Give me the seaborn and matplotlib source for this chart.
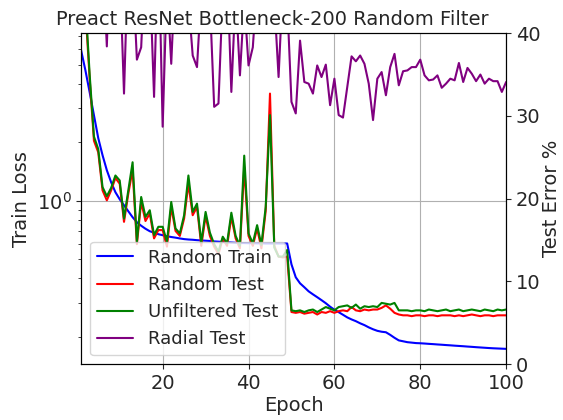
import numpy as np
import pandas as pd
import seaborn as sns
import matplotlib
matplotlib.use("Agg")
import matplotlib.pyplot as plt
from matplotlib.ticker import NullFormatter

epochs = list(range(1, 101))

# train loss (left, log axis)
random_train = [
    5.94, 4.69, 3.61, 2.75, 2.10, 1.715, 1.436, 1.246, 1.107, 1.019,
    0.949, 0.884, 0.824, 0.776, 0.745, 0.719, 0.698, 0.686, 0.674, 0.666,
    0.658, 0.652, 0.647, 0.641, 0.636, 0.633, 0.631, 0.628, 0.626, 0.624,
    0.622, 0.619, 0.617, 0.615, 0.613, 0.611, 0.609, 0.607, 0.607, 0.606,
    0.606, 0.605, 0.605, 0.604, 0.604, 0.604, 0.604, 0.604, 0.604, 0.472,
    0.405, 0.377, 0.360, 0.343, 0.331, 0.320, 0.309, 0.298, 0.286, 0.276,
    0.268, 0.260, 0.252, 0.246, 0.241, 0.235, 0.230, 0.224, 0.219, 0.215,
    0.2127, 0.2114, 0.205, 0.198, 0.192, 0.190, 0.188, 0.187, 0.186, 0.1856,
    0.1850, 0.1843, 0.1837, 0.1830, 0.1824, 0.1817, 0.1811, 0.1804, 0.1798, 0.1792,
    0.1785, 0.1779, 0.1772, 0.1766, 0.1760, 0.1754, 0.1749, 0.1745, 0.1741, 0.1737,
]

# test error % (right axis)
random_test = [
    57, 43, 34.5, 27, 25.6, 21, 19.8, 21, 22.5, 21.8,
    17.2, 20.6, 23.5, 14.5, 19.6, 17.3, 18.2, 15.2, 16.2, 16.2,
    14.2, 19, 16.1, 15.5, 17.6, 21.8, 18, 19, 14.3, 17.9,
    15.5, 14.2, 13.3, 15.2, 14.3, 17.8, 15.2, 14, 23.8, 15.5,
    14.3, 16.4, 14, 18.5, 32.7, 14.3, 13, 12.9, 13, 6.3,
    6.2, 6.3, 6.1, 6.2, 6.3, 6.0, 6.3, 6.2, 6.4, 6.2,
    6.4, 6.5, 6.4, 6.9, 6.5, 6.4, 6.6, 6.5, 6.6, 6.6,
    6.8, 7.1, 6.7, 6.2, 6.0, 5.9, 5.9, 5.8, 5.9, 5.9,
    5.8, 5.9, 5.9, 5.8, 5.9, 5.9, 5.9, 5.8, 5.9, 5.8,
    5.9, 6.0, 5.9, 5.8, 5.9, 5.9, 5.8, 5.9, 5.9, 5.9,
]

unfiltered_test = [
    58, 44, 35, 27.5, 26, 21.4, 20.3, 21.3, 22.8, 22.2,
    17.6, 21, 24.4, 14.8, 20.2, 17.8, 18.6, 15.6, 16.6, 16.6,
    14.8, 19.6, 16.4, 15.8, 18, 22.8, 18.4, 19.4, 14.7, 18.4,
    15.9, 14.5, 13.6, 15.4, 14.6, 18.3, 15.5, 14.3, 25.2, 15.8,
    14.6, 16.8, 14.4, 19, 30.1, 14.1, 13, 13, 13.8, 6.5,
    6.4, 6.5, 6.3, 6.5, 6.6, 6.3, 6.6, 6.9, 6.7, 6.5,
    6.9, 7.0, 7.1, 6.8, 7.2, 6.7, 7.0, 6.9, 7.0, 6.9,
    7.4, 7.3, 7.2, 7.4, 6.5, 6.5, 6.5, 6.4, 6.5, 6.5,
    6.4, 6.6, 6.5, 6.4, 6.5, 6.6, 6.4, 6.5, 6.6, 6.4,
    6.5, 6.6, 6.5, 6.4, 6.6, 6.5, 6.4, 6.6, 6.5, 6.6,
]

radial_test = [
    65, 60, 58, 55, 52, 50, 38.4, 55, 52, 48,
    32.7, 50, 48, 36.8, 38.3, 50, 47, 32.3, 52, 28.7,
    46, 36.3, 48, 50, 46, 44, 37.3, 35.9, 45, 48,
    44, 31.1, 31.5, 45, 48, 32.9, 45, 34.9, 44, 36.1,
    38.3, 46, 50, 48, 45, 44, 34.7, 46, 44, 31.7,
    30.3, 39.1, 34.1, 33.9, 32.7, 36.1, 34.7, 36.2, 31.3, 34.5,
    30.1, 29.8, 33.5, 37.2, 36.6, 37.3, 36.3, 33.9, 29.5, 34.5,
    35.3, 32.5, 35.9, 37.5, 33.7, 35.4, 35.5, 35.9, 35.9, 36.8,
    34.9, 34.3, 34.4, 34.9, 33.4, 33.9, 34.5, 34.3, 36.4, 34.1,
    35.8, 35.1, 34.2, 35, 33.9, 34.5, 34.2, 34.2, 32.9, 34.1,
]

df = pd.DataFrame({
    "epoch": epochs,
    "random_train": random_train,
    "random_test": random_test,
    "unfiltered_test": unfiltered_test,
    "radial_test": radial_test,
})

sns.set_theme(style="ticks", rc={
    "axes.edgecolor": "black",
    "axes.linewidth": 0.8,
    "grid.color": "#b0b0b0",
    "grid.linewidth": 0.8,
    "xtick.direction": "out",
    "ytick.direction": "out",
    "xtick.major.size": 3.5,
    "ytick.major.size": 3.5,
    "xtick.minor.size": 2,
    "ytick.minor.size": 2,
    "xtick.major.width": 0.8,
    "ytick.major.width": 0.8,
    "xtick.minor.width": 0.6,
    "ytick.minor.width": 0.6,
})
plt.rcParams["font.family"] = ["DejaVu Sans"]
plt.rcParams["font.size"] = 14

fig, ax1 = plt.subplots(figsize=(5.63, 4.2), dpi=100)
fig.subplots_adjust(left=0.144, right=0.899, top=0.921, bottom=0.133)
ax2 = ax1.twinx()

sns.lineplot(data=df, x="epoch", y="random_train", ax=ax1, color="blue",
             linewidth=1.5, label="Random Train", legend=False)
sns.lineplot(data=df, x="epoch", y="random_test", ax=ax2, color="red",
             linewidth=1.5, label="Random Test", legend=False)
sns.lineplot(data=df, x="epoch", y="unfiltered_test", ax=ax2, color="green",
             linewidth=1.5, label="Unfiltered Test", legend=False)
sns.lineplot(data=df, x="epoch", y="radial_test", ax=ax2, color="purple",
             linewidth=1.5, label="Radial Test", legend=False)

ax1.set_yscale("log")
ax1.set_ylim(0.145, 7.26)
ax1.yaxis.set_minor_formatter(NullFormatter())
ax1.set_xlim(1, 100)
ax1.set_xticks([20, 40, 60, 80, 100])
ax1.grid(True)
ax2.set_ylim(0, 40)
ax2.set_yticks([0, 10, 20, 30, 40])

ax1.set_xlabel("Epoch", fontsize=14, labelpad=2)
ax1.set_ylabel("Train Loss", fontsize=14)
ax2.set_ylabel("Test Error %", fontsize=14, labelpad=1)
ax1.set_title("Preact ResNet Bottleneck-200 Random Filter", fontsize=14, x=0.45)
for ax in (ax1, ax2):
    ax.tick_params(labelsize=14)
    for s in ax.spines.values():
        s.set_visible(True)

h1, l1 = ax1.get_legend_handles_labels()
h2, l2 = ax2.get_legend_handles_labels()
ax2.legend(h1 + h2, l1 + l2, loc="lower left", fontsize=13)

fig.savefig("out.png", dpi=100)
